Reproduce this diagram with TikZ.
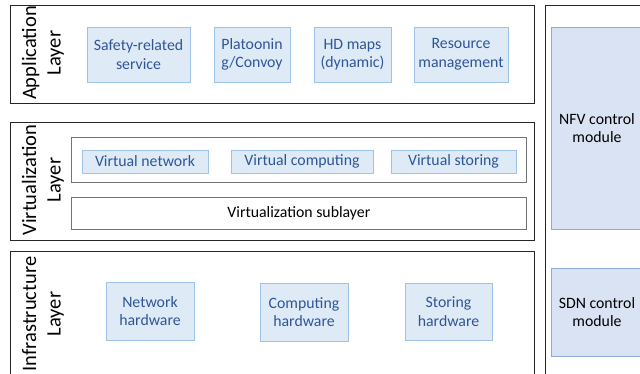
\documentclass[tikz,border=0pt]{standalone}
\usepackage{fontspec}
\setmainfont{Carlito}
\usetikzlibrary{positioning}

\definecolor{boxfill}{HTML}{DEEBF7}
\definecolor{boxline}{HTML}{9DC3E6}
\definecolor{boxtext}{HTML}{2F5597}
\definecolor{ctrlfill}{HTML}{DAE3F3}
\definecolor{ctrlline}{HTML}{8FAADC}

\tikzset{
	layer/.style={draw=black!85, line width=1.2pt, anchor=north west, inner sep=0pt},
	sublayer/.style={draw=black!55, line width=0.8pt, anchor=north west, inner sep=0pt},
	func/.style={draw=boxline, fill=boxfill, line width=0.9pt, text=boxtext, align=center, font=\fontsize{15.8}{18.5}\selectfont, inner sep=0pt},
	ctrl/.style={draw=ctrlline, fill=ctrlfill, line width=0.9pt, align=center, anchor=north west, inner sep=0pt},
	label/.style={align=center, font=\fontsize{15.8}{18.5}\selectfont},
	layername/.style={rotate=90, align=center, font=\fontsize{20.5}{24.5}\selectfont}
}

\begin{document}
\begin{tikzpicture}[x=1pt, y=-1pt]
	\useasboundingbox (0,0) rectangle (640,374);
	\clip (0,0) rectangle (640,374);

	% layers
	\node[layer, minimum width=524pt, minimum height=98pt]	(app)	at (10,5)	{};
	\node[layer, minimum width=524pt, minimum height=118pt]	(virt)	at (10,122)	{};
	\node[layer, minimum width=524pt, minimum height=140pt]	(infra)	at (10,251)	{};
	\node[layer, minimum width=120pt, minimum height=390pt]	(ctrl)	at (545,5)	{};

	\node[layername]	(appname)	at (43,53)	{Application\\Layer};
	\node[layername]	(virtname)	at (43,180)	{Virtualization\\Layer};
	\node[layername]	(infraname)	at (43,314)	{Infrastructure\\Layer};

	% application
	\node[func, minimum width=103pt, minimum height=55pt]	(safety)	at (138.5,54.5)	{Safety-related\\service};
	\node[func, minimum width=76pt, minimum height=55pt]	(platoon)	at (252,54.5)	{Platoonin\\g/Convoy};
	\node[func, minimum width=77pt, minimum height=55pt]	(hdmaps)	at (352.5,54.5)	{HD maps\\(dynamic)};
	\node[func, minimum width=94pt, minimum height=55pt]	(resource)	at (461,54.5)	{Resource\\management};

	% virtualization
	\node[sublayer, minimum width=455pt, minimum height=45pt]	(vbox)	at (71,137)	{};
	\node[func, minimum width=126pt, minimum height=23pt]	(vnet)	at (145,161.5)	{Virtual network};
	\node[func, minimum width=142pt, minimum height=23pt]	(vcomp)	at (302,161.5)	{Virtual computing};
	\node[func, minimum width=125pt, minimum height=23pt]	(vstor)	at (453.5,161.5)	{Virtual storing};
	\node[sublayer, minimum width=455pt, minimum height=32pt]	(vsub)	at (71,197)	{};
	\node[label]	(vsubname)	at (vsub.center)	{Virtualization sublayer};

	% infrastructure
	\node[func, minimum width=88pt, minimum height=58pt]	(nethw)	at (150,311)	{Network\\hardware};
	\node[func, minimum width=88pt, minimum height=58pt]	(comphw)	at (304,312)	{Computing\\hardware};
	\node[func, minimum width=87pt, minimum height=57pt]	(storhw)	at (448.5,311.5)	{Storing\\hardware};

	% control modules
	\node[ctrl, minimum width=110pt, minimum height=202pt]	(nfv)	at (551,27)	{};
	\node[label]	(nfvname)	at (597,128)	{NFV control\\module};
	\node[ctrl, minimum width=110pt, minimum height=88pt]	(sdn)	at (551,268)	{};
	\node[label]	(sdnname)	at (597,312)	{SDN control\\module};
\end{tikzpicture}
\end{document}
